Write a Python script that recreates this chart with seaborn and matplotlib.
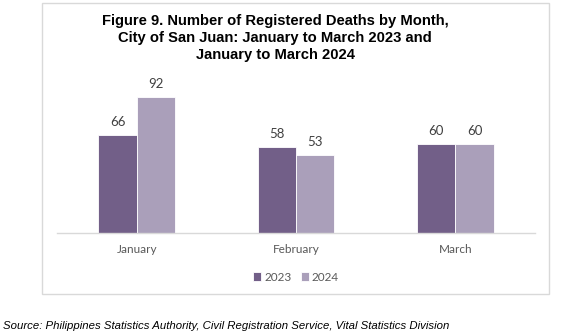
import matplotlib
matplotlib.use("Agg")
import matplotlib.pyplot as plt
from matplotlib.patches import Rectangle
import seaborn as sns
import pandas as pd

months = ["January", "February", "March"]
years = ["2023", "2024"]
deaths_2023 = [66, 58, 60]
deaths_2024 = [92, 53, 60]
colors = ["#71588F", "#A99ABF"]

df = pd.DataFrame({
    "Month": months * 2,
    "Year": [years[0]] * 3 + [years[1]] * 3,
    "Deaths": deaths_2023 + deaths_2024,
})

sns.set_theme(style="white")
plt.rcParams["font.family"] = ["Lato", "DejaVu Sans"]

fig = plt.figure(figsize=(5.64, 3.32), dpi=100)
fig.patch.set_facecolor("white")

# Chart frame
fig.patches.append(Rectangle((42 / 564, 1 - 294 / 332), (549 - 42) / 564, (294 - 3) / 332,
                             transform=fig.transFigure, fill=False,
                             edgecolor="#D9D9D9", linewidth=1.0, zorder=0))

ax = fig.add_axes([57 / 564, 1 - 233 / 332, (535 - 57) / 564, (233 - 85) / 332])
sns.barplot(data=df, x="Month", y="Deaths", hue="Year", palette=colors,
            width=0.48, gap=0, edgecolor="white", linewidth=0.6, ax=ax)

ax.set_ylim(0, 100)
ax.set_xlim(-0.5, 2.5)
ax.set_xlabel("")
ax.set_ylabel("")
ax.set_yticks([])
for s in ["top", "right", "left"]:
    ax.spines[s].set_visible(False)
ax.spines["bottom"].set_color("#D9D9D9")
ax.spines["bottom"].set_linewidth(1.0)
ax.tick_params(axis="x", length=0, pad=8, labelsize=8.5, labelcolor="#595959")

for cont in ax.containers:
    ax.bar_label(cont, padding=5, fontsize=9.5, color="#404040")

leg = ax.legend(loc="upper center", bbox_to_anchor=(0.5, -0.19), ncol=2, frameon=False,
                fontsize=8.5, handlelength=0.7, handleheight=0.7, handletextpad=0.25,
                columnspacing=0.8, labelcolor="#595959")

fig.text(275 / 564, 1 - 14 / 332,
         "Figure 9. Number of Registered Deaths by Month,\n"
         "City of San Juan: January to March 2023 and\n"
         "January to March 2024",
         ha="center", va="top", fontsize=10.6, fontweight="bold",
         family=["Liberation Sans", "DejaVu Sans"], color="black", linespacing=1.25)

fig.text(3 / 564, 1 - 326 / 332,
         "Source: Philippines Statistics Authority, Civil Registration Service, Vital Statistics Division",
         ha="left", va="center", fontsize=8.2, style="italic",
         family=["Liberation Sans", "DejaVu Sans"], color="black")

fig.savefig("out.png", dpi=100, facecolor="white")
